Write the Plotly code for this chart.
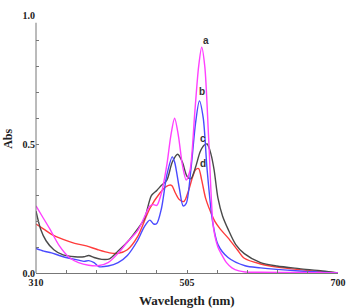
import plotly.graph_objects as go

# Wavelength (nm) / absorbance readings per curve
wl_a = [310, 318, 328, 340, 353, 365, 378, 390, 403, 416, 428, 441, 452, 457, 462, 466, 472, 479, 484, 489, 494, 499, 504, 509, 515, 520, 524, 528, 533, 539, 545, 550, 556, 563, 572, 580, 600, 650, 700]
abs_a = [0.26, 0.22, 0.17, 0.106, 0.06, 0.04, 0.03, 0.028, 0.04, 0.076, 0.12, 0.163, 0.23, 0.26, 0.265, 0.262, 0.31, 0.42, 0.53, 0.60, 0.53, 0.42, 0.36, 0.40, 0.62, 0.80, 0.875, 0.80, 0.52, 0.18, 0.10, 0.07, 0.04, 0.02, 0.008, 0.004, 0.003, 0.002, 0.0]

wl_b = [310, 320, 330, 340, 353, 365, 372, 378, 385, 391, 403, 416, 428, 441, 450, 457, 462, 466, 472, 479, 486, 489, 495, 500, 504, 510, 516, 521, 526, 531, 538, 545, 558, 580, 600, 650, 700]
abs_b = [0.095, 0.085, 0.078, 0.068, 0.057, 0.05, 0.045, 0.048, 0.04, 0.025, 0.027, 0.04, 0.068, 0.125, 0.18, 0.205, 0.19, 0.192, 0.25, 0.38, 0.45, 0.43, 0.33, 0.26, 0.27, 0.40, 0.58, 0.667, 0.60, 0.40, 0.20, 0.11, 0.06, 0.028, 0.02, 0.008, 0.0]

wl_c = [310, 316, 323, 333, 345, 360, 372, 378, 385, 395, 405, 416, 428, 441, 450, 459, 466, 472, 479, 486, 493, 499, 505, 510, 516, 522, 527, 531, 536, 540, 545, 551, 558, 568, 579, 600, 621, 650, 680, 700]
abs_c = [0.24, 0.17, 0.125, 0.09, 0.07, 0.063, 0.063, 0.068, 0.06, 0.053, 0.055, 0.085, 0.12, 0.17, 0.21, 0.30, 0.32, 0.34, 0.36, 0.43, 0.46, 0.43, 0.375, 0.365, 0.41, 0.47, 0.495, 0.50, 0.46, 0.40, 0.29, 0.22, 0.17, 0.11, 0.075, 0.04, 0.027, 0.017, 0.008, 0.0]

wl_d = [310, 320, 330, 345, 360, 375, 390, 405, 416, 428, 441, 457, 470, 478, 485, 490, 495, 501, 506, 512, 516, 520, 524, 529, 535, 541, 548, 558, 570, 579, 600, 621, 650, 680, 700]
abs_d = [0.19, 0.17, 0.15, 0.13, 0.115, 0.105, 0.09, 0.078, 0.076, 0.09, 0.14, 0.25, 0.31, 0.335, 0.34, 0.31, 0.285, 0.277, 0.31, 0.37, 0.40, 0.405, 0.36, 0.29, 0.24, 0.20, 0.17, 0.136, 0.09, 0.057, 0.035, 0.023, 0.013, 0.005, 0.0]

curve_labels = ["a", "b", "c", "d"]
label_wl = [530, 525, 526, 526]
label_abs = [0.90, 0.705, 0.52, 0.425]

x_ticks = [310, 505, 700]
y_ticks = [0.0, 0.5, 1.0]
y_ticktext = ["0.0", "0.5", "1.0"]

series = [
    (wl_a, abs_a, "#ff40ff"),
    (wl_b, abs_b, "#4a4aff"),
    (wl_c, abs_c, "#4a4a4a"),
    (wl_d, abs_d, "#ff3c3c"),
]

fig = go.Figure()
for wl, ab, col in [series[3], series[2], series[1], series[0]]:
    fig.add_trace(go.Scatter(x=wl, y=ab, mode="lines",
                             line=dict(color=col, width=1.4, shape="spline", smoothing=0.8),
                             showlegend=False, hoverinfo="skip"))

for t, lx, ly in zip(curve_labels, label_wl, label_abs):
    fig.add_annotation(x=lx, y=ly, text=t, showarrow=False,
                       font=dict(family="Liberation Sans", size=10, color="#333333", weight="bold"))

serif = "Liberation Serif"
fig.update_layout(
    width=355, height=308,
    margin=dict(l=36, r=9, t=9, b=35),
    paper_bgcolor="white", plot_bgcolor="white",
    xaxis=dict(range=[310, 700], tickvals=x_ticks, ticktext=[str(v) for v in x_ticks],
               ticks="inside", ticklen=3, tickcolor="#777777",
               minor=dict(ticks="inside", ticklen=3, tick0=310, dtick=39, tickcolor="#777777"),
               showline=True, linecolor="#777777", linewidth=1, showgrid=False, zeroline=False,
               tickfont=dict(family=serif, size=10, color="#222222", weight="bold")),
    yaxis=dict(range=[0, 1.0], tickvals=y_ticks, ticktext=y_ticktext,
               ticks="inside", ticklen=3, tickcolor="#777777",
               minor=dict(ticks="inside", ticklen=3, tick0=0, dtick=0.1, tickcolor="#777777"),
               showline=False, showgrid=False, zeroline=False,
               tickfont=dict(family=serif, size=10, color="#222222", weight="bold")),
)
fig.add_shape(type="line", xref="paper", x0=0, x1=0, yref="y", y0=0, y1=0.97,
              line=dict(color="#777777", width=1))
fig.add_annotation(xref="paper", yref="paper", x=0.5, y=0, xanchor="center", yanchor="middle", yshift=-27,
                   text="Wavelength (nm)", showarrow=False,
                   font=dict(family=serif, size=13, color="#222222", weight="bold"))
fig.add_annotation(xref="paper", yref="paper", x=0, y=0.52, xanchor="center", yanchor="middle",
                   xshift=-28, textangle=-90,
                   text="Abs", showarrow=False,
                   font=dict(family=serif, size=12, color="#222222", weight="bold"))

fig.write_html("out.html")
